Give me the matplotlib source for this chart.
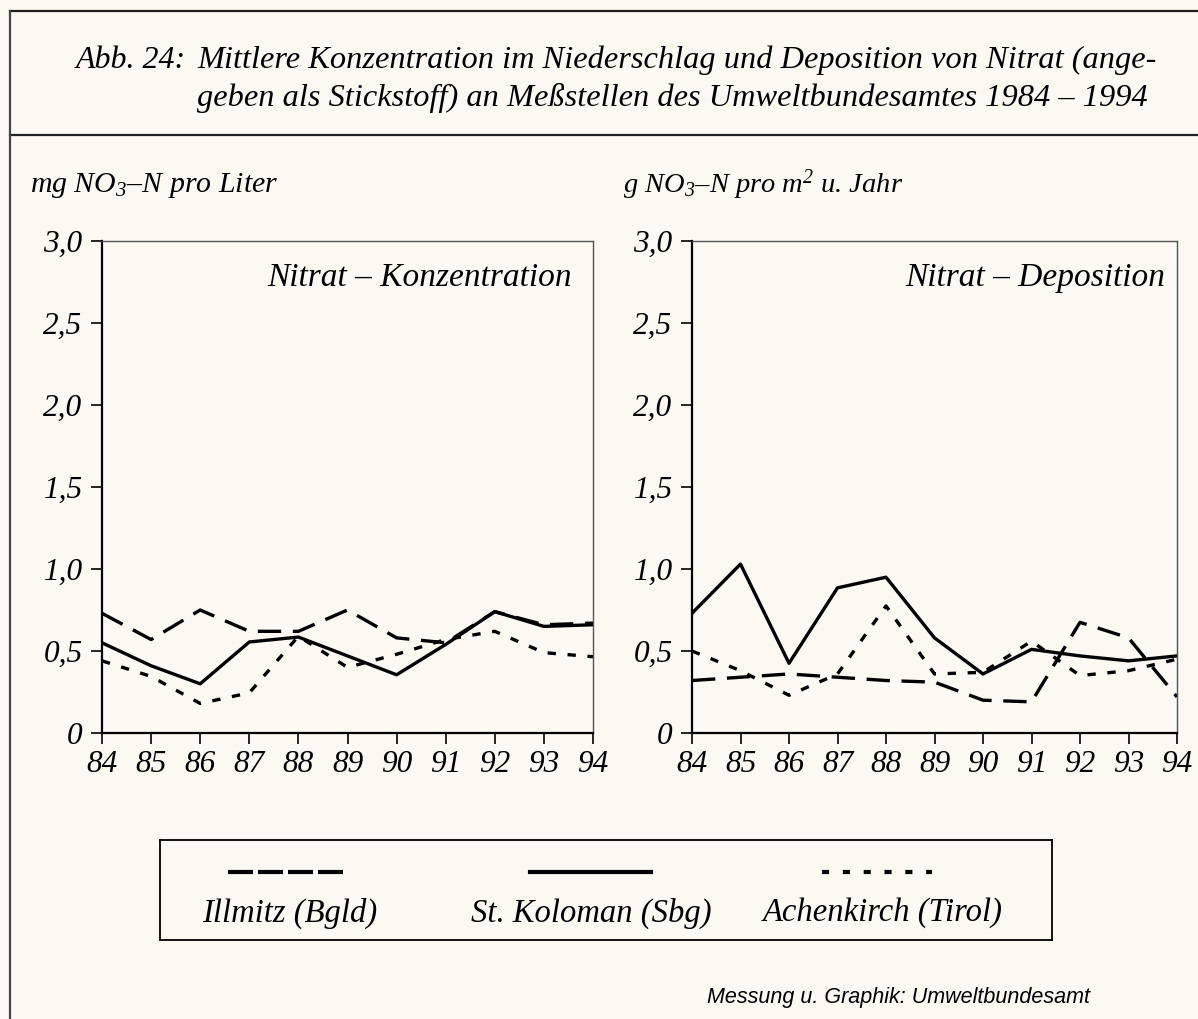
import matplotlib
matplotlib.use('Agg')
import matplotlib.pyplot as plt
from matplotlib.lines import Line2D

plt.rcParams['font.family'] = ['Liberation Serif', 'DejaVu Serif']
plt.rcParams['font.style'] = 'italic'
plt.rcParams['mathtext.fontset'] = 'custom'
plt.rcParams['mathtext.it'] = 'Liberation Serif:italic'
plt.rcParams['mathtext.rm'] = 'Liberation Serif:italic'
plt.rcParams['mathtext.default'] = 'it'

# data (years 1984-1994)
years = [84, 85, 86, 87, 88, 89, 90, 91, 92, 93, 94]
year_labels = [str(y) for y in years]
y_ticks = [0, 0.5, 1.0, 1.5, 2.0, 2.5, 3.0]
y_labels = ['0', '0,5', '1,0', '1,5', '2,0', '2,5', '3,0']

# Nitrat - Konzentration (mg NO3-N pro Liter)
konz_illmitz = [0.73, 0.57, 0.75, 0.62, 0.62, 0.75, 0.58, 0.55, 0.74, 0.66, 0.67]
konz_koloman = [0.55, 0.41, 0.30, 0.555, 0.585, 0.47, 0.355, 0.54, 0.74, 0.65, 0.66]
konz_achenkirch = [0.44, 0.345, 0.18, 0.245, 0.59, 0.40, 0.48, 0.57, 0.62, 0.49, 0.465]

# Nitrat - Deposition (g NO3-N pro m2 u. Jahr)
dep_illmitz = [0.32, 0.34, 0.36, 0.34, 0.32, 0.31, 0.20, 0.19, 0.675, 0.58, 0.22]
dep_koloman = [0.73, 1.03, 0.425, 0.885, 0.95, 0.58, 0.36, 0.51, 0.47, 0.44, 0.47]
dep_achenkirch = [0.50, 0.38, 0.23, 0.36, 0.775, 0.36, 0.37, 0.56, 0.35, 0.38, 0.45]

stations = ['Illmitz (Bgld)', 'St. Koloman (Sbg)', 'Achenkirch (Tirol)']
styles = [dict(linestyle=(0, (7, 3.5))), dict(linestyle='-'), dict(linestyle=(0, (2.5, 3.5)))]
# the legend samples use tighter dash patterns than the plot lines
leg_styles = [dict(linestyle=(0, (6, 1.2))), dict(linestyle='-'), dict(linestyle=(0, (1.7, 3.3)))]

bg = '#fbf9f1'
fig = plt.figure(figsize=(11.98, 10.19), dpi=100, facecolor=bg)

# frame lines
fig.add_artist(Line2D([10 / 1198, 1], [1 - 11 / 1019] * 2, color='#222222', lw=1.6))
fig.add_artist(Line2D([10 / 1198, 1], [1 - 135 / 1019] * 2, color='#222222', lw=1.6))
fig.add_artist(Line2D([10 / 1198] * 2, [0, 1 - 11 / 1019], color='#444444', lw=1.6))

fig.text(186 / 1198, 1 - 60 / 1019, 'Abb. 24:', fontsize=23, va='center', ha='right')
fig.text(197 / 1198, 1 - 60 / 1019,
         'Mittlere Konzentration im Niederschlag und Deposition von Nitrat (ange-',
         fontsize=23.3, va='center')
fig.text(197 / 1198, 1 - 98 / 1019,
         'geben als Stickstoff) an Meßstellen des Umweltbundesamtes 1984 – 1994',
         fontsize=23.3, va='center')

fig.text(30 / 1198, 1 - 185 / 1019, r'mg NO$_3$–N pro Liter', fontsize=21.5, va='center')
fig.text(623 / 1198, 1 - 185 / 1019, r'g NO$_3$–N pro m$^2$ u. Jahr', fontsize=20.5, va='center')

ax1 = fig.add_axes([102 / 1198, 1 - 733 / 1019, 491 / 1198, 492 / 1019])
ax2 = fig.add_axes([692 / 1198, 1 - 733 / 1019, 485 / 1198, 492 / 1019])

panels = [
    (ax1, [konz_illmitz, konz_koloman, konz_achenkirch], 'Nitrat – Konzentration', 0.957),
    (ax2, [dep_illmitz, dep_koloman, dep_achenkirch], 'Nitrat – Deposition', 0.975),
]
for ax, series, name, tx in panels:
    ax.set_facecolor(bg)
    for vals, st in zip(series, styles):
        ax.plot(years, vals, color='black', lw=2.4, **st)
    ax.set_xlim(84, 94)
    ax.set_ylim(0, 3.0)
    ax.set_xticks(years)
    ax.set_xticklabels(year_labels)
    ax.set_yticks(y_ticks)
    ax.set_yticklabels(y_labels)
    ax.tick_params(direction='out', length=8, width=1.2, labelsize=22.5, pad=4)
    ax.tick_params(axis='y', pad=6)
    for s in ['left', 'bottom']:
        ax.spines[s].set_linewidth(1.6)
    for s in ['top', 'right']:
        ax.spines[s].set_linewidth(1.0)
        ax.spines[s].set_color('#555555')
    ax.text(tx, 0.925, name, transform=ax.transAxes, ha='right', va='center', fontsize=24)

# legend box: sample line above each label
leg = fig.add_axes([160 / 1198, 1 - 940 / 1019, 892 / 1198, 100 / 1019])
leg.set_facecolor(bg)
leg.set_xlim(0, 1)
leg.set_ylim(0, 1)
leg.set_xticks([])
leg.set_yticks([])
for s in leg.spines.values():
    s.set_linewidth(1.3)
line_centers = [0.1407, 0.4826, 0.8038]
line_half = [0.0645, 0.068, 0.0617]
label_centers = [0.145, 0.484, 0.81]
for cx, hw, lx, st, lab in zip(line_centers, line_half, label_centers, leg_styles, stations):
    leg.plot([cx - hw, cx + hw], [0.68, 0.68], color='black', lw=3, **st)
    leg.text(lx, 0.27, lab, ha='center', va='center', fontsize=23.5)

fig.text(1090 / 1198, 1 - 997 / 1019, 'Messung u. Graphik: Umweltbundesamt',
         family='Liberation Sans', style='italic', fontsize=15.5, ha='right', va='center')

fig.savefig('out.png', dpi=100, facecolor=bg)
